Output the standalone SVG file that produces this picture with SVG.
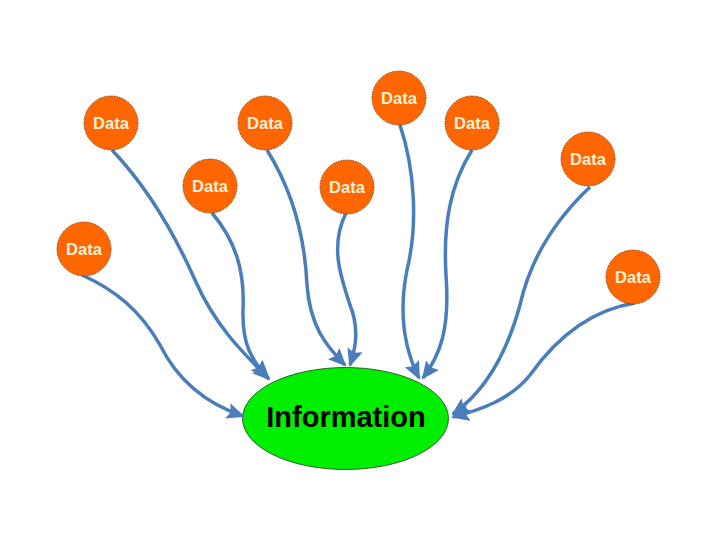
<svg xmlns="http://www.w3.org/2000/svg" width="720" height="540" viewBox="0 0 720 540">
<style>
.data circle{fill:#FF6600;stroke:#6B2E00;stroke-width:0.8;stroke-dasharray:1.5 1}
.data text{font-family:"Liberation Sans",Arial,sans-serif;font-weight:bold;font-size:16.5px;fill:#FFF1D6;text-anchor:middle}
.conn path{fill:none;stroke:#4A7EBB;stroke-width:3.5;marker-end:url(#ah)}
</style>
<defs>
<marker id="ah" markerUnits="userSpaceOnUse" markerWidth="18" markerHeight="16" refX="16" refY="8" orient="auto">
<path d="M0,0 L18,8 L0,16 L3,8 z" fill="#4A7EBB"/>
</marker>
</defs>
<rect width="720" height="540" fill="#FFFFFF"/>
<g id="info">
<ellipse cx="345.5" cy="418.5" rx="103" ry="51" fill="#00EE00" stroke="#1A3A1A" stroke-width="0.8"/>
<text x="346" y="427" font-family="'Liberation Sans',Arial,sans-serif" font-weight="bold" font-size="29" fill="#000000" text-anchor="middle">Information</text>
</g>
<g id="connectors" class="conn">
<path d="M82,275 C115,290 140,310 160,345 C180,385 210,405 243,416"/>
<path d="M112,150 C150,190 175,235 195,280 C215,325 240,350 269,379"/>
<path d="M212,213 C235,240 245,270 243,310 C242,345 252,360 267,377"/>
<path d="M267,150 C295,195 305,240 307,285 C310,325 325,345 345,365"/>
<path d="M346,213 C330,245 340,275 350,305 C360,330 355,350 350,365"/>
<path d="M400,125 C415,170 418,225 407,270 C398,315 405,350 419,378"/>
<path d="M472,150 C450,185 443,225 446,275 C450,330 440,355 423,378"/>
<path d="M590,187 C555,220 530,260 520,305 C505,360 480,395 453,414"/>
<path d="M635,303 C590,310 555,340 530,375 C510,400 480,410 453,417"/>
</g>
<g id="data1" class="data"><circle cx="399" cy="98" r="27"/><text x="399" y="104">Data</text></g>
<g id="data2" class="data"><circle cx="111" cy="123" r="27"/><text x="111" y="129">Data</text></g>
<g id="data3" class="data"><circle cx="265" cy="123" r="27"/><text x="265" y="129">Data</text></g>
<g id="data4" class="data"><circle cx="472" cy="123" r="27"/><text x="472" y="129">Data</text></g>
<g id="data5" class="data"><circle cx="588" cy="159" r="27"/><text x="588" y="165">Data</text></g>
<g id="data6" class="data"><circle cx="210" cy="186" r="27"/><text x="210" y="192">Data</text></g>
<g id="data7" class="data"><circle cx="347" cy="187" r="27"/><text x="347" y="193">Data</text></g>
<g id="data8" class="data"><circle cx="84" cy="249" r="27"/><text x="84" y="255">Data</text></g>
<g id="data9" class="data"><circle cx="633" cy="277" r="27"/><text x="633" y="283">Data</text></g>
</svg>
